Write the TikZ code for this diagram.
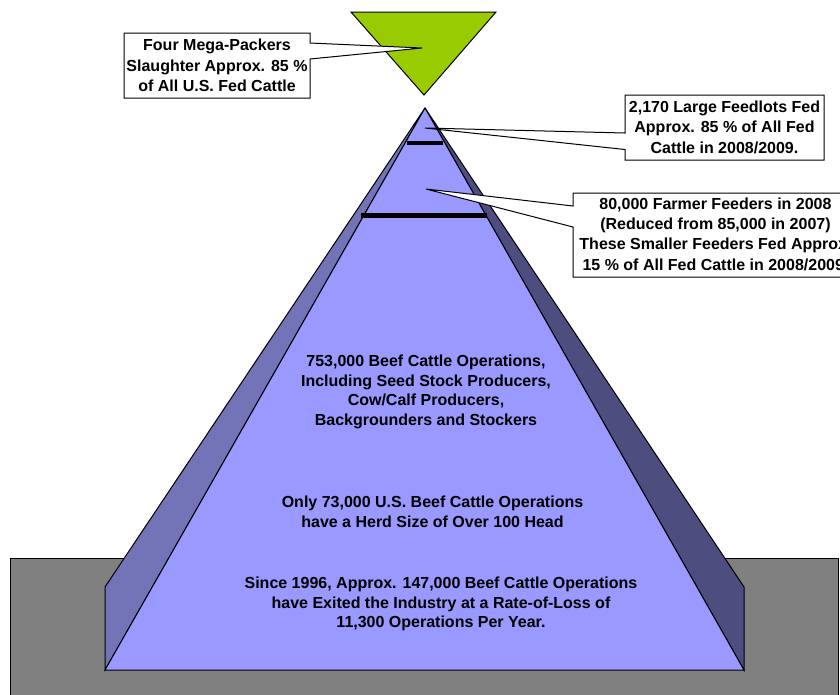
\documentclass[tikz,border=0pt]{standalone}
\usepackage{fontspec}
\setmainfont{Liberation Sans}
\definecolor{frontc}{HTML}{9999FF}
\definecolor{leftc}{HTML}{7373B8}
\definecolor{rightc}{HTML}{4D4D80}
\definecolor{groundc}{HTML}{808080}
\definecolor{greenc}{HTML}{99CC00}
\begin{document}
\begin{tikzpicture}[x=0.75pt,y=-0.75pt,
  txt/.style={font=\bfseries\fontsize{12}{14.7}\selectfont, align=center, inner sep=0pt, text=black},
  ctxt/.style={font=\bfseries\fontsize{12}{15.3}\selectfont, align=center, inner sep=0pt, text=black},
  face/.style={draw=black, line width=0.75pt, line join=miter},
  callout/.style={fill=white, draw=black, line width=0.75pt, line join=miter},
  barline/.style={line width=3.5pt, draw=black}]
\useasboundingbox (0,0) rectangle (840,694);
\clip (0,0) rectangle (840,694);
% ground
\draw[face, fill=groundc] (10,558) rectangle (838,710);
% pyramid
\coordinate (apex) at (425,108);
\coordinate (bl) at (105,670);
\coordinate (br) at (744,670);
\coordinate (lo) at (105,587);
\coordinate (ro) at (744,587);
\draw[face, fill=leftc] (apex) -- (lo) -- (bl) -- cycle;
\draw[face, fill=rightc] (apex) -- (ro) -- (br) -- cycle;
\draw[face, fill=frontc] (apex) -- (bl) -- (br) -- cycle;
% bars
\draw[barline] (407,143) -- (443,143);
\draw[barline] (361,215.5) -- (487,215.5);
% green triangle
\draw[face, fill=greenc] (351,12) -- (496,12) -- (424,95) -- cycle;
% callout 1
\coordinate (t1) at (422,48);
\draw[callout] (124,33) -- (310,33) -- (310,43) -- (t1) -- (310,59) -- (310,98) -- (124,98) -- cycle;
\node[ctxt] (c1) at (217,65.5) {Four Mega-Packers\\Slaughter Approx. 85 \%\\of All U.S. Fed Cattle};
% callout 2
\coordinate (t2) at (425,128);
\draw[callout] (625,95) -- (824,95) -- (824,160) -- (625,160) -- (625,149.5) -- (t2) -- (625,133) -- cycle;
\node[ctxt] (c2) at (724.5,127) {2,170 Large Feedlots Fed\\Approx. 85 \% of All Fed\\Cattle in 2008/2009.};
% callout 3
\coordinate (t3) at (426,189);
\draw[callout] (573,193) -- (858,193) -- (858,277) -- (573,277) -- (573,227) -- (t3) -- (573,206) -- cycle;
\node[ctxt] (c3) at (715.5,234) {80,000 Farmer Feeders in 2008\\(Reduced from 85,000 in 2007)\\These Smaller Feeders Fed Approx.\\15 \% of All Fed Cattle in 2008/2009.};
% pyramid texts
\node[txt] (p1) at (426,392) {753,000 Beef Cattle Operations,\\Including Seed Stock Producers,\\Cow/Calf Producers,\\Backgrounders and Stockers};
\node[txt] (p2) at (432.5,511.5) {Only 73,000 U.S. Beef Cattle Operations\\have a Herd Size of Over 100 Head};
\node[txt] (p3) at (441,604) {Since 1996, Approx. 147,000 Beef Cattle Operations\\have Exited the Industry at a Rate-of-Loss of\\11,300 Operations Per Year.};
\end{tikzpicture}
\end{document}
